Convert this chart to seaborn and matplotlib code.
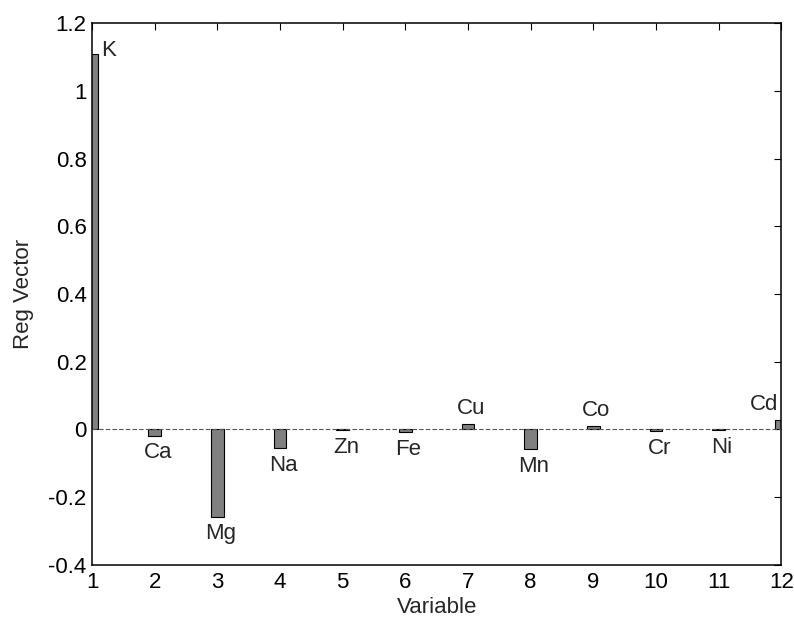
import numpy as np
import pandas as pd
import matplotlib
matplotlib.use("Agg")
import matplotlib.pyplot as plt
import seaborn as sns

# Données
variables = [1, 2, 3, 4, 5, 6, 7, 8, 9, 10, 11, 12]
elements = ["K", "Ca", "Mg", "Na", "Zn", "Fe", "Cu", "Mn", "Co", "Cr", "Ni", "Cd"]
reg_vector = [1.109, -0.018, -0.257, -0.055, -0.002, -0.008,
              0.017, -0.059, 0.011, -0.005, -0.002, 0.029]

df = pd.DataFrame({"Variable": variables, "Reg": reg_vector, "Elem": elements})

sns.set_theme(style="white")
plt.rcParams["font.family"] = ["Liberation Sans", "DejaVu Sans"]

FS = 16

fig = plt.figure(figsize=(7.94, 6.27), dpi=100)
ax = fig.add_axes([0.116, 0.099, 0.868, 0.864])

sns.barplot(data=df, x="Variable", y="Reg", native_scale=True, orient="x",
            width=0.2, color="#808080", saturation=1, edgecolor="black",
            linewidth=0.8, ax=ax, zorder=2)

ax.axhline(0, color="#555555", linestyle=(0, (4, 2)), linewidth=0.8, zorder=3)

# étiquettes des éléments
for x, y, name in zip(variables, reg_vector, elements):
    if name == "K":
        ax.text(x + 0.15, y + 0.01, name, ha="left", va="center", fontsize=FS)
    elif name == "Cd":
        ax.text(x - 0.27, y + 0.045, name, ha="center", va="center", fontsize=FS)
    elif y >= 0:
        ax.text(x + 0.05, y + 0.045, name, ha="center", va="center", fontsize=FS)
    else:
        ax.text(x + 0.05, y - 0.05, name, ha="center", va="center", fontsize=FS)

ax.set_xlim(1, 12)
ax.set_ylim(-0.4, 1.2)
ax.set_xticks(variables)
ax.set_yticks(np.arange(-0.4, 1.21, 0.2))
ax.set_yticklabels(["-0.4", "-0.2", "0", "0.2", "0.4", "0.6", "0.8", "1", "1.2"])
ax.tick_params(direction="in", top=True, right=True, length=5, width=0.8,
               labelsize=FS, colors="black")
ax.tick_params(axis="x", pad=5)
ax.tick_params(axis="y", pad=4)
for s in ax.spines.values():
    s.set_color("black")
    s.set_linewidth(1.1)
ax.set_xlabel("Variable", fontsize=FS, labelpad=3)
ax.set_ylabel("Reg Vector", fontsize=FS, labelpad=10)

plt.savefig("out.png", dpi=100)
